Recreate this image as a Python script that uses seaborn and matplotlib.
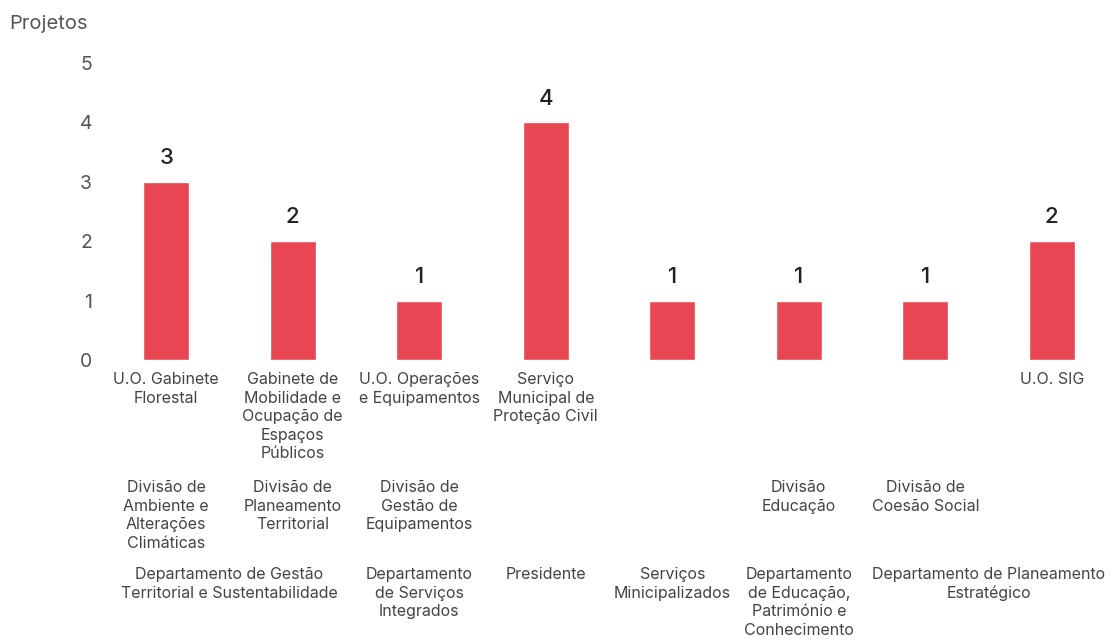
import matplotlib
matplotlib.use('Agg')
import matplotlib.pyplot as plt
import seaborn as sns
import numpy as np

# Projetos por unidade orgânica
projetos = [3, 2, 1, 4, 1, 1, 1, 2]
unidades = ['U.O. Gabinete\nFlorestal',
            'Gabinete de\nMobilidade e\nOcupação de\nEspaços\nPúblicos',
            'U.O. Operações\ne Equipamentos',
            'Serviço\nMunicipal de\nProteção Civil',
            '', '', '',
            'U.O. SIG']
divisoes = ['Divisão de\nAmbiente e\nAlterações\nClimáticas',
            'Divisão de\nPlaneamento\nTerritorial',
            'Divisão de\nGestão de\nEquipamentos',
            '', '',
            'Divisão\nEducação',
            'Divisão de\nCoesão Social',
            '']
departamentos = ['Departamento de Gestão\nTerritorial e Sustentabilidade',
                 'Departamento de Gestão\nTerritorial e Sustentabilidade',
                 'Departamento\nde Serviços\nIntegrados',
                 'Presidente',
                 'Serviços\nMinicipalizados',
                 'Departamento\nde Educação,\nPatrimónio e\nConhecimento',
                 'Departamento de Planeamento\nEstratégico',
                 'Departamento de Planeamento\nEstratégico']
yticks = [0, 1, 2, 3, 4, 5]

sns.set_style('white')
plt.rcParams['font.family'] = ['Inter', 'DejaVu Sans']

fig = plt.figure(figsize=(11.14, 6.4), dpi=100)
ax = fig.add_axes([103 / 1114, 1 - 360 / 640, 1012 / 1114, 297 / 640])

pos = np.arange(len(projetos))
sns.barplot(x=pos, y=projetos, color='#e94653', saturation=1, width=0.36, ax=ax)
ax.bar_label(ax.containers[0], padding=10, fontsize=16, fontweight='medium',
             color='#222222')

ax.set_xlim(-0.5, len(projetos) - 0.5)
ax.set_ylim(0, 5)
ax.set_yticks(yticks)
ax.tick_params(axis='y', length=0, pad=8, labelsize=14, labelcolor='#555555')
ax.set_xticks([])
ax.set_xlabel('')
ax.set_ylabel('')
sns.despine(ax=ax, left=True, bottom=True)

lab = dict(xycoords=('data', 'axes fraction'), textcoords='offset pixels',
           ha='center', va='top', multialignment='center', fontsize=11.5,
           color='#444444', linespacing=1.3, annotation_clip=False)

for i in pos:
    ax.annotate(unidades[i], xy=(i, 0), xytext=(0, -12), **lab)
    ax.annotate(divisoes[i], xy=(i, 0), xytext=(0, -120), **lab)

# agrupar departamentos consecutivos iguais
start = 0
for i in range(1, len(departamentos) + 1):
    if i == len(departamentos) or departamentos[i] != departamentos[start]:
        ax.annotate(departamentos[start], xy=((start + i - 1) / 2, 0),
                    xytext=(0, -207), **lab)
        start = i

fig.text(9 / 1114, 1 - 24 / 640, 'Projetos', ha='left', va='center',
         fontsize=14.5, color='#555555')

fig.savefig('out.png', dpi=100)
